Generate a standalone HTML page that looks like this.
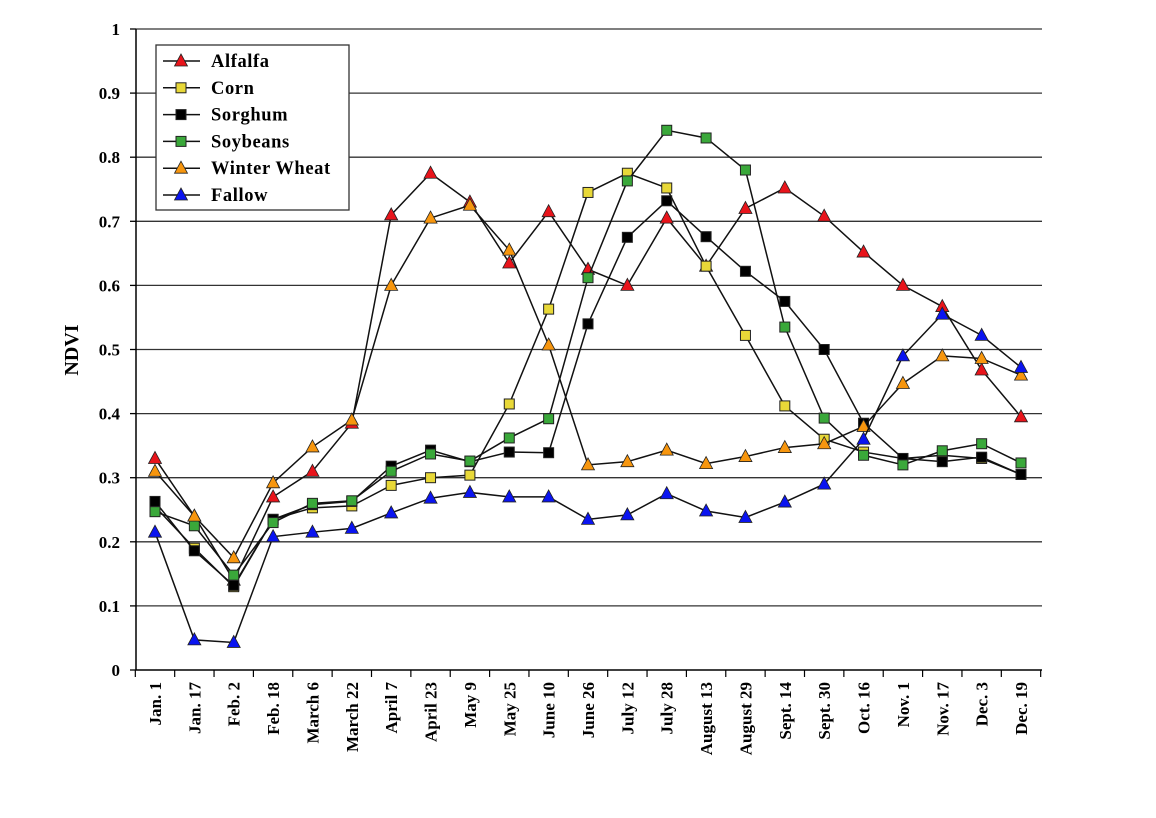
<!DOCTYPE html>
<html><head><meta charset="utf-8"><style>
body{margin:0;background:#fff}
svg text{font-family:"Liberation Serif",serif;font-weight:bold;fill:#000}
</style></head><body>
<svg id="chart" width="1156" height="813" xmlns="http://www.w3.org/2000/svg">
<g id="grid"></g><g id="axes"></g><g id="series"></g><g id="legend"></g>
</svg>
<script>
const categories=["Jan. 1","Jan. 17","Feb. 2","Feb. 18","March 6","March 22","April 7","April 23","May 9","May 25","June 10","June 26","July 12","July 28","August 13","August 29","Sept. 14","Sept. 30","Oct. 16","Nov. 1","Nov. 17","Dec. 3","Dec. 19"];
const yTicks=[0,0.1,0.2,0.3,0.4,0.5,0.6,0.7,0.8,0.9,1];
const yTickLabels=["0","0.1","0.2","0.3","0.4","0.5","0.6","0.7","0.8","0.9","1"];
const alfalfa=[.33,.24,.14,.27,.31,.385,.71,.775,.73,.635,.715,.625,.60,.705,.63,.72,.752,.708,.652,.60,.567,.468,.395];
const corn=[.255,.19,.13,.235,.253,.256,.288,.30,.304,.415,.563,.745,.775,.752,.63,.522,.412,.36,.34,.33,.335,.33,.305];
const sorghum=[.263,.186,.132,.235,.258,.263,.318,.343,.325,.34,.339,.54,.675,.732,.676,.622,.575,.50,.385,.33,.325,.332,.305];
const soybeans=[.247,.225,.148,.23,.26,.264,.31,.337,.326,.362,.392,.612,.763,.842,.83,.78,.535,.393,.335,.32,.342,.353,.323];
const winterWheat=[.31,.24,.175,.292,.348,.39,.60,.705,.725,.655,.507,.32,.325,.343,.322,.333,.347,.353,.38,.447,.49,.486,.46];
const fallow=[.215,.047,.043,.208,.215,.221,.245,.268,.277,.27,.27,.235,.242,.275,.248,.238,.262,.29,.36,.49,.555,.522,.472];
const seriesNames=["Alfalfa","Corn","Sorghum","Soybeans","Winter Wheat","Fallow"];

const NS="http://www.w3.org/2000/svg";
const L=136,R=1042,T=29,B=670;
const X0=155,DX=(1021-155)/22;
const x=i=>X0+i*DX;
const y=v=>B-v*(B-T);
function mk(tag,attrs,parent){const e=document.createElementNS(NS,tag);for(const k in attrs)e.setAttribute(k,attrs[k]);parent.appendChild(e);return e;}
const grid=document.getElementById('grid'),axes=document.getElementById('axes'),ser=document.getElementById('series'),leg=document.getElementById('legend');

yTicks.forEach((v,i)=>{
  if(v>0){const g=mk('line',{x1:L,x2:R,y1:y(v),y2:y(v),stroke:'#333','stroke-width':1.3},grid);
  
  }
  const tk=mk('line',{x1:L-6,x2:L,y1:y(v),y2:y(v),stroke:'#000','stroke-width':1.3},axes);
  
  
  const t=mk('text',{x:L-16,y:y(v)+6,'text-anchor':'end','font-size':17},axes);
  t.textContent=yTickLabels[i];
  
  
});
const ya=mk('line',{x1:L,x2:L,y1:T,y2:B,stroke:'#000','stroke-width':1.5},axes);


const xa=mk('line',{x1:L,x2:R,y1:B,y2:B,stroke:'#000','stroke-width':1.5},axes);


const yt=mk('text',{x:0,y:0,transform:'translate(78,350) rotate(-90)','text-anchor':'middle','font-size':20},axes);
yt.textContent='NDVI';


for(let i=0;i<=categories.length;i++){
  const xx=x(i)-DX/2;
  const tk=mk('line',{x1:xx,x2:xx,y1:B,y2:B+7,stroke:'#000','stroke-width':1.2},axes);
  
  
}
categories.forEach((c,i)=>{
  const t=mk('text',{x:0,y:0,transform:`translate(${x(i)+6},682) rotate(-90)`,'text-anchor':'end','font-size':17},axes);
  t.textContent=c;
  
  
});

function marker(shape,fill,cx,cy,parent){
  if(shape==='tri') return mk('polygon',{points:`${cx},${cy-7} ${cx-6.5},${cy+5} ${cx+6.5},${cy+5}`,fill:fill,stroke:'#222','stroke-width':0.8},parent);
  return mk('rect',{x:cx-5,y:cy-5,width:10,height:10,fill:fill,stroke:'#222','stroke-width':1},parent);
}
const defs=[[alfalfa,'tri','#e8141b'],[corn,'sq','#e8d838'],[sorghum,'sq','#000'],[soybeans,'sq','#3aa83a'],[winterWheat,'tri','#f7960e'],[fallow,'tri','#0a14f0']];
defs.forEach((d,k)=>{
  const g=mk('g',{},ser);
  
  
  const pts=d[0].map((v,i)=>x(i)+','+y(v)).join(' ');
  const pl=mk('polyline',{points:pts,fill:'none',stroke:'#111','stroke-width':1.5},g);
  
  
  d[0].forEach((v,i)=>{const m=marker(d[1],d[2],x(i),y(v),g);
    
    });
});

const box=mk('rect',{x:156,y:45,width:193,height:165,fill:'#fff',stroke:'#333','stroke-width':1.3},leg);


defs.forEach((d,k)=>{
  const cy=61+k*26.8;
  const g=mk('g',{},leg);
  
  
  mk('line',{x1:163,x2:200,y1:cy,y2:cy,stroke:'#111','stroke-width':1.5},g);
  marker(d[1],d[2],181,cy,g);
  const t=mk('text',{x:211,y:cy+6,'font-size':18.5,'letter-spacing':0.6},g);
  t.textContent=seriesNames[k];
});
</script>
</body></html>
